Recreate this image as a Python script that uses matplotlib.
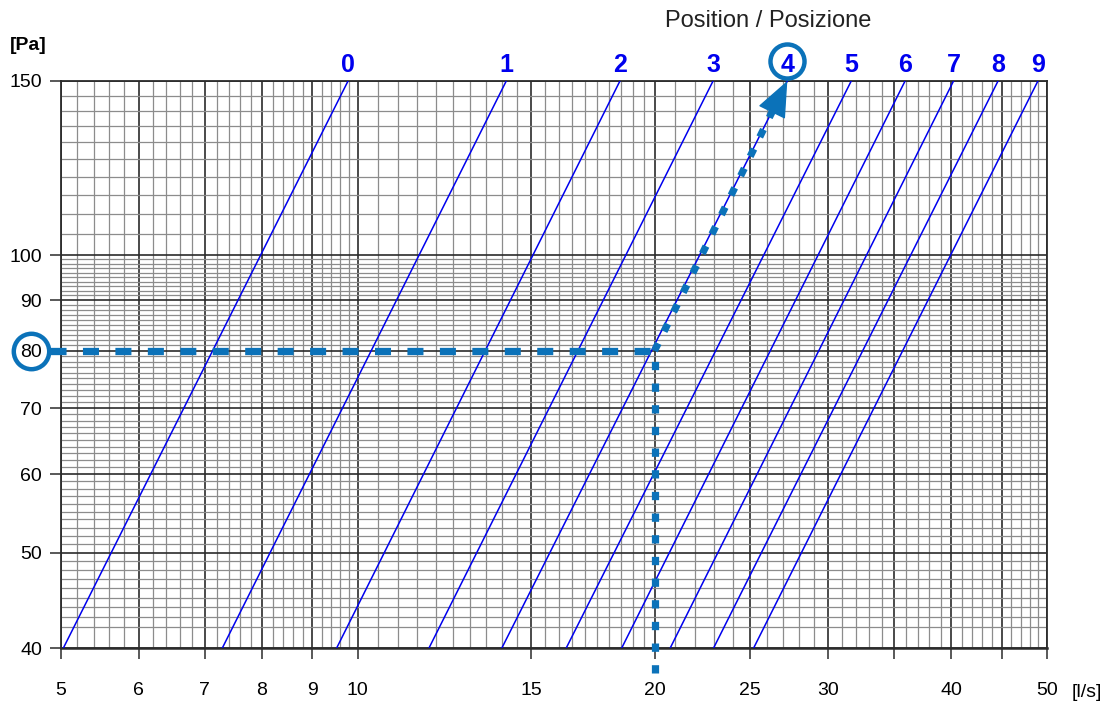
import numpy as np
import matplotlib.pyplot as plt
from matplotlib.ticker import NullFormatter
from matplotlib.transforms import offset_copy
from matplotlib.patches import FancyArrowPatch, ArrowStyle

plt.rcParams["font.family"] = ["Liberation Sans", "DejaVu Sans"]

# damper positions: flow [l/s] read at the bottom (40 Pa) and top (150 Pa) of the chart
positions = ["0", "1", "2", "3", "4", "5", "6", "7", "8", "9"]
q_at_40 = [5.03, 7.29, 9.52, 11.81, 14.0, 16.27, 18.52, 20.74, 22.95, 25.2]
q_at_150 = [9.78, 14.15, 18.45, 22.93, 27.27, 31.66, 35.9, 40.2, 44.6, 48.95]
dp_ends = [40, 150]

# worked example: 20 l/s at 80 Pa -> position 4
q_sel, dp_sel, pos_sel = 20, 80, 4
q_line_start = 4.88   # dashed guide starts just left of the axis
dp_line_end = 37.8    # dotted guide runs just below the axis

x_major = [5, 6, 7, 8, 9, 10, 15, 20, 25, 30, 35, 40, 45, 50]
x_labels = ["5", "6", "7", "8", "9", "10", "15", "20", "25", "30", "", "40", "", "50"]
x_minor = list(np.arange(5.2, 10, 0.2)) + list(np.arange(10.5, 20, 0.5)) + list(range(21, 50))
y_major = [40, 50, 60, 70, 80, 90, 100, 150]
y_minor = list(range(42, 100)) + list(range(105, 150, 5))

BLUE = "#0000ee"
GUIDE = "#0b72b9"
DARK = "#2b2b2b"
GREY = "#8c8c8c"

fig = plt.figure(figsize=(11.09, 7.04), dpi=100)
ax = fig.add_axes([0.0547, 0.0791, 0.8894, 0.8059])
ax.set_xscale("log")
ax.set_yscale("log")
ax.set_xlim(5, 50)
ax.set_ylim(40, 150)

ax.set_xticks(x_major)
ax.set_xticklabels(x_labels)
ax.set_xticks(x_minor, minor=True)
ax.set_yticks(y_major)
ax.set_yticklabels([str(v) for v in y_major])
ax.set_yticks(y_minor, minor=True)
ax.xaxis.set_minor_formatter(NullFormatter())
ax.yaxis.set_minor_formatter(NullFormatter())

ax.grid(which="minor", color=GREY, lw=0.9, zorder=0)
ax.grid(which="major", color=DARK, lw=1.2, zorder=0)
ax.set_axisbelow(True)
ax.tick_params(which="major", length=7.9, width=1.1, color=DARK, labelsize=14)
ax.tick_params(axis="x", which="major", pad=16)
ax.tick_params(axis="y", which="major", pad=5.5)
ax.tick_params(which="minor", length=0)
for sp in ax.spines.values():
    sp.set_color(DARK)
    sp.set_linewidth(1.3)
ax.spines["bottom"].set_linewidth(1.8)

# characteristic line for each position
for name, qa, qb in zip(positions, q_at_40, q_at_150):
    ax.plot([qa, qb], dp_ends, color=BLUE, lw=1.1, zorder=3)
    ax.annotate(name, xy=(qb, dp_ends[1]), xytext=(0, 6.5), textcoords="offset points",
                ha="center", va="baseline", fontsize=18, fontweight="bold", color=BLUE,
                annotation_clip=False)

# worked example guides
ax.plot([q_line_start, q_sel], [dp_sel, dp_sel], color=GUIDE, lw=5.25,
        dashes=(2.2, 2.25), clip_on=False, zorder=5)
ax.plot([q_sel, q_sel], [dp_line_end, dp_sel], color=GUIDE, lw=5.2,
        dashes=(1.15, 1.85), clip_on=False, zorder=5)
q_tip = q_at_150[pos_sel]
ax.plot([q_sel, q_tip], [dp_sel, dp_ends[1]], color=GUIDE, lw=5.2,
        dashes=(1.15, 1.85), clip_on=False, zorder=5)
frac = np.log(145 / dp_sel) / np.log(dp_ends[1] / dp_sel)
q_a = q_sel * (q_tip / q_sel) ** frac
arrow = FancyArrowPatch((q_a, 145), (q_tip, dp_ends[1]),
                        arrowstyle=ArrowStyle("-|>", head_length=23.4, head_width=9.75),
                        mutation_scale=1, color=GUIDE, lw=1, shrinkA=0, shrinkB=0,
                        clip_on=False, zorder=6)
ax.add_patch(arrow)

# circles around the selected position and pressure
ax.plot([q_tip], [dp_ends[1]], marker="o", ms=24.5, mfc="none", mec=GUIDE, mew=3.2,
        transform=offset_copy(ax.transData, fig=fig, x=0, y=14.4, units="points"),
        clip_on=False, zorder=6)
ax.plot([x_major[0]], [dp_sel], marker="o", ms=25.5, mfc="none", mec=GUIDE, mew=3.2,
        transform=offset_copy(ax.transData, fig=fig, x=-21.4, y=0, units="points"),
        clip_on=False, zorder=6)

fig.text(10 / 1109, 1 - 50 / 704, "[Pa]", ha="left", va="baseline", fontsize=14,
         fontweight="bold")
fig.text(1072 / 1109, 1 - 697 / 704, "[l/s]", ha="left", va="baseline", fontsize=14)
fig.text(768 / 1109, 1 - 26.7 / 704, "Position / Posizione", ha="center", va="baseline",
         fontsize=17, color="#222222")

fig.savefig("out.png", dpi=100, facecolor="white")
